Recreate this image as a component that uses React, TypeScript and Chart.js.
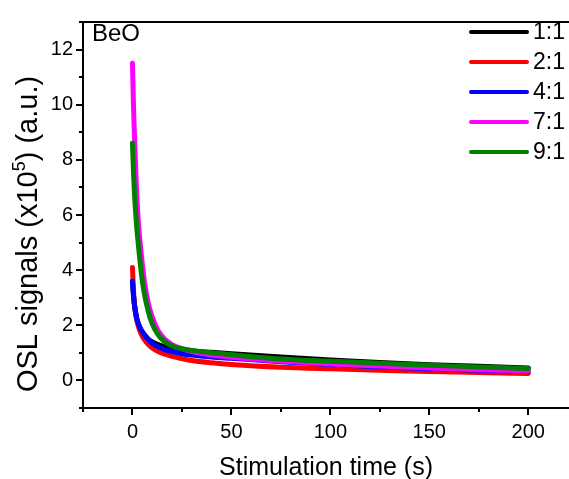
import React, { useEffect, useRef } from "react";
import { Chart, registerables } from "chart.js";

Chart.register(...registerables);

const time = [0, 0.5, 1, 2, 3, 4, 5, 6, 8, 10, 13, 16, 20, 25, 30, 40, 50, 75, 100, 125, 150, 175, 200];
const ratio11 = [3.6, 3.1, 2.75, 2.3, 2.05, 1.88, 1.76, 1.66, 1.5, 1.4, 1.3, 1.23, 1.17, 1.11, 1.07, 1.02, 0.97, 0.85, 0.74, 0.65, 0.57, 0.51, 0.45];
const ratio21 = [4.1, 3.3, 2.75, 2.25, 1.95, 1.75, 1.6, 1.48, 1.3, 1.18, 1.05, 0.96, 0.87, 0.79, 0.72, 0.64, 0.58, 0.48, 0.42, 0.37, 0.32, 0.29, 0.25];
const ratio41 = [3.6, 3.1, 2.75, 2.3, 2.05, 1.88, 1.76, 1.65, 1.48, 1.35, 1.22, 1.13, 1.05, 0.97, 0.92, 0.85, 0.8, 0.68, 0.58, 0.49, 0.42, 0.37, 0.32];
const ratio71 = [11.5, 10.0, 8.9, 7.0, 5.7, 4.9, 4.2, 3.6, 2.8, 2.3, 1.8, 1.52, 1.3, 1.15, 1.05, 0.92, 0.84, 0.7, 0.6, 0.52, 0.45, 0.39, 0.34];
const ratio91 = [8.6, 7.6, 6.8, 5.7, 4.9, 4.2, 3.6, 3.15, 2.5, 2.05, 1.65, 1.42, 1.25, 1.15, 1.09, 1.0, 0.93, 0.78, 0.7, 0.62, 0.55, 0.49, 0.43];

const seriesLabels = ["1:1", "2:1", "4:1", "7:1", "9:1"];
const seriesColors = ["#000000", "#ff0000", "#0000ff", "#ff00ff", "#008000"];
const seriesValues = [ratio11, ratio21, ratio41, ratio71, ratio91];

const xMajorTicks = [0, 50, 100, 150, 200];
const xMinorTicks = [-25, 25, 75, 125, 175];
const yMajorTicks = [0, 2, 4, 6, 8, 10, 12];
const yMinorTicks = [-1, 1, 3, 5, 7, 9, 11, 13];

const FONT = "'Liberation Sans', Arial, sans-serif";

const framePlugin = {
  id: "frame",
  afterDraw(chart: any) {
    const ctx = chart.ctx;
    const a = chart.chartArea;
    const xs = chart.scales.x;
    const ys = chart.scales.y;
    const left = a.left;
    const bottom = a.bottom;
    ctx.save();
    ctx.strokeStyle = "#000000";
    ctx.lineWidth = 2;
    ctx.lineCap = "butt";
    ctx.beginPath();
    xMajorTicks.forEach((v) => {
      const px = Math.round(xs.getPixelForValue(v));
      ctx.moveTo(px, bottom);
      ctx.lineTo(px, bottom + 7);
    });
    xMinorTicks.forEach((v) => {
      const px = Math.round(xs.getPixelForValue(v));
      ctx.moveTo(px, bottom);
      ctx.lineTo(px, bottom + 4);
    });
    yMajorTicks.forEach((v) => {
      const py = Math.round(ys.getPixelForValue(v));
      ctx.moveTo(left, py);
      ctx.lineTo(left - 7, py);
    });
    yMinorTicks.forEach((v) => {
      const py = Math.round(ys.getPixelForValue(v));
      ctx.moveTo(left, py);
      ctx.lineTo(left - 4, py);
    });
    // frame: left, bottom, top drawn from scale pixels
    const yTop = ys.getPixelForValue(13);
    const yBot = ys.getPixelForValue(-1);
    const xL = xs.getPixelForValue(-25);
    const xR = xs.getPixelForValue(220.6);
    ctx.moveTo(xL, yTop - 1);
    ctx.lineTo(xL, yBot + 1);
    ctx.moveTo(xL - 1, yBot);
    ctx.lineTo(xR, yBot);
    ctx.moveTo(xL - 1, yTop);
    ctx.lineTo(xR, yTop);
    ctx.stroke();

    ctx.fillStyle = "#000";
    // BeO label
    ctx.font = `24px ${FONT}`;
    ctx.textAlign = "left";
    ctx.textBaseline = "alphabetic";
    ctx.fillText("BeO", 92, 41);

    // legend
    chart.data.datasets.forEach((ds: any, i: number) => {
      const cy = 32 + i * 30;
      ctx.strokeStyle = ds.borderColor;
      ctx.lineWidth = 4;
      ctx.lineCap = "round";
      ctx.beginPath();
      ctx.moveTo(471, cy);
      ctx.lineTo(527, cy);
      ctx.stroke();
      ctx.fillStyle = "#000";
      ctx.font = `23px ${FONT}`;
      ctx.textAlign = "left";
      ctx.textBaseline = "middle";
      ctx.fillText(ds.label, 533, cy + 1);
    });

    // x title
    ctx.fillStyle = "#000";
    ctx.font = `25px ${FONT}`;
    ctx.textAlign = "center";
    ctx.textBaseline = "alphabetic";
    ctx.fillText("Stimulation time (s)", (a.left + a.right) / 2, 475);

    // y title with superscript
    ctx.save();
    ctx.translate(37, 234);
    ctx.rotate(-Math.PI / 2);
    const big = `29px ${FONT}`;
    const small = `18px ${FONT}`;
    const p1 = "OSL signals (x10";
    const p2 = "5";
    const p3 = ") (a.u.)";
    ctx.font = big;
    const w1 = ctx.measureText(p1).width;
    const w3 = ctx.measureText(p3).width;
    ctx.font = small;
    const w2 = ctx.measureText(p2).width;
    const total = w1 + w2 + w3;
    let x0 = -total / 2;
    ctx.textAlign = "left";
    ctx.font = big;
    ctx.fillText(p1, x0, 0);
    x0 += w1;
    ctx.font = small;
    ctx.fillText(p2, x0, -12);
    x0 += w2;
    ctx.font = big;
    ctx.fillText(p3, x0, 0);
    ctx.restore();

    ctx.restore();
  },
};

export default function App() {
  const ref = useRef<HTMLCanvasElement | null>(null);
  useEffect(() => {
    if (!ref.current) return;
    const chart = new Chart(ref.current, {
      type: "line",
      data: {
        datasets: seriesLabels.map((label, i) => ({
          label,
          data: time.map((t, j) => ({ x: t, y: seriesValues[i][j] })),
          borderColor: seriesColors[i],
          backgroundColor: seriesColors[i],
          borderWidth: 5,
          borderCapStyle: "round",
          borderJoinStyle: "round",
          pointRadius: 0,
          cubicInterpolationMode: "monotone",
          fill: false,
          order: seriesLabels.length - i,
        })),
      },
      options: {
        responsive: false,
        animation: false,
        layout: { padding: { top: 9, right: 0, left: 0, bottom: 0 } },
        plugins: {
          legend: { display: false },
          tooltip: { enabled: false },
          title: { display: false },
        },
        scales: {
          x: {
            type: "linear",
            min: -25,
            max: 220.6,
            grid: { display: false, drawTicks: false },
            border: { display: true, color: "#000", width: 2 },
            afterBuildTicks: (scale: any) => {
              scale.ticks = xMajorTicks.map((v) => ({ value: v }));
            },
            afterFit: (scale: any) => {
              scale.height = 71;
            },
            ticks: {
              color: "#000",
              font: { family: FONT, size: 20 },
              padding: 12,
              maxRotation: 0,
              autoSkip: false,
              callback: (v: any) => String(v),
            },
          },
          y: {
            type: "linear",
            min: -1,
            max: 13,
            grid: { display: false, drawTicks: false },
            border: { display: true, color: "#000", width: 2 },
            afterBuildTicks: (scale: any) => {
              scale.ticks = yMajorTicks.map((v) => ({ value: v }));
            },
            afterFit: (scale: any) => {
              scale.width = 83;
            },
            ticks: {
              color: "#000",
              font: { family: FONT, size: 20 },
              padding: 10,
              autoSkip: false,
              callback: (v: any) => String(v),
            },
          },
        },
      },
      plugins: [framePlugin],
    } as any);
    return () => chart.destroy();
  }, []);
  return (
    <canvas
      ref={ref}
      width={569}
      height={479}
      style={{ position: "absolute", left: 0, top: 0, display: "block" }}
    />
  );
}
